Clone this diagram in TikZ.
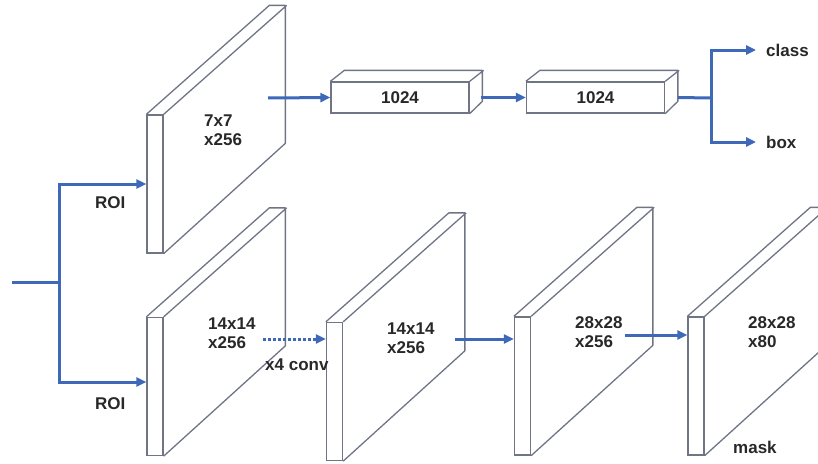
\documentclass[tikz,border=0pt]{standalone}
\usepackage{fontspec}
\setmainfont{Liberation Sans}
\usetikzlibrary{arrows.meta}

\definecolor{flow}{RGB}{62,104,184}
\definecolor{edge}{RGB}{112,117,134}
\definecolor{ink}{RGB}{40,40,40}

% one feature map: thin front face plus its depth
\newcommand{\featmap}[3]{%
    \node[front] (#1) at (#2,#3) {};
    \draw[edgeline] (#1.north west) -- ++(123,-109) -- ++(16,0) -- ++(0,138) -- (#1.south east)
                    (#1.north east) -- ++(123,-109);
}
% one fully connected layer as a flat box
\newcommand{\fclayer}[3]{%
    \node[fcbox] (#1) at (#2,#3) {1024};
    \draw[edgeline] (#1.north west) -- ++(14,-11) -- ++(138,0) -- ++(0,31) -- (#1.south east)
                    (#1.north east) -- ++(14,-11);
}

\begin{document}
\begin{tikzpicture}[x=1pt, y=-1pt,
        font=\fontsize{17}{19.5}\selectfont\bfseries, text=ink,
        front/.style = {draw=edge, fill=white, line width=1.3pt, inner sep=0,
                        minimum width=16, minimum height=138},
        fcbox/.style = {draw=edge, fill=white, line width=1.3pt, inner sep=0,
                        minimum width=138, minimum height=31},
        edgeline/.style = {draw=edge, line width=1.3pt, line join=round},
        arr/.style = {draw=flow, line width=3pt, -{Triangle[length=10pt,width=9pt]}},
        lbl/.style = {inner sep=0, align=left, anchor=west}]
    \useasboundingbox (0,0) rectangle (818,463);
    \clip (0,0) rectangle (818,463);

    \featmap{roibox}{155}{184}
    \featmap{roimask}{155}{386.5}
    \featmap{convmask}{334.5}{391.5}
    \featmap{upmask}{522.5}{386}
    \featmap{outmask}{696}{386}

    \fclayer{fcone}{400}{97.5}
    \fclayer{fctwo}{595.5}{97.5}

    \node[lbl] (t1) at (204,130) {7x7\\x256};
    \node[lbl] (t2) at (208,333) {14x14\\x256};
    \node[lbl] (t3) at (387,338) {14x14\\x256};
    \node[lbl] (t4) at (575,332) {28x28\\x256};
    \node[lbl] (t5) at (748,332) {28x28\\x80};
    \node[lbl] (conv) at (265,365) {x4 conv};
    \node[lbl] (roia) at (95,203) {ROI};
    \node[lbl] (roib) at (95,404) {ROI};
    \node[lbl] (mask) at (733,447) {mask};
    \node[lbl] (cls) at (766,50) {class};
    \node[lbl] (bx) at (766,142) {box};

    \coordinate (in) at (12,282);
    \coordinate (split) at (59,282);
    \coordinate (boxout) at (268,98);
    \coordinate (fork) at (711,98);
    \coordinate (maskout) at (263,339);
    \coordinate (convout) at (455,339);
    \coordinate (upout) at (625,335);

    % ROI branches
    \draw[draw=flow, line width=3pt] (in) -- (split);
    \draw[arr] (split) |- (roibox.west);
    \draw[arr] (split) |- ([yshift=4.5pt]roimask.west);

    % box head
    \draw[arr] (boxout) -- (fcone.west);
    \draw[arr] ([xshift=11pt]fcone.east) -- (fctwo.west);
    \draw[draw=flow, line width=3pt] ([xshift=13pt]fctwo.east) -- (fork);
    \draw[arr] (fork) |- ([xshift=-10pt]cls.west);
    \draw[arr] (fork) |- ([xshift=-10pt]bx.west);

    % mask head
    \draw[arr, dotted] (maskout) -- (maskout -| convmask.west);
    \draw[arr] (convout) -- (convout -| upmask.west);
    \draw[arr] (upout) -- (upout -| outmask.west);
\end{tikzpicture}
\end{document}
